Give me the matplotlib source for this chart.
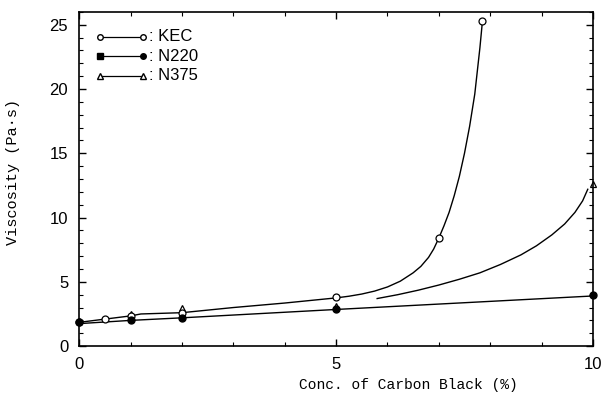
import matplotlib.pyplot as plt
from matplotlib.ticker import MultipleLocator

# measured points
conc_kec = [0, 0.5, 1, 2, 5, 7, 7.85]
visc_kec = [1.9, 2.1, 2.35, 2.6, 3.8, 8.4, 25.3]
conc_n220 = [0, 1, 2, 5, 10]
visc_n220 = [1.9, 2.0, 2.2, 2.85, 4.0]
conc_n375 = [0, 1, 2, 5, 10]
visc_n375 = [1.95, 2.5, 3.0, 3.1, 12.6]

# drawn guide lines
line_upper_x = [0, 1, 1.2, 2, 3, 4, 5, 5.25, 5.5, 5.75, 6, 6.25, 6.5, 6.65, 6.8, 6.9, 7,
                7.1, 7.2, 7.3, 7.4, 7.5, 7.6, 7.7, 7.8, 7.85]
line_upper_y = [1.85, 2.35, 2.5, 2.6, 3.0, 3.35, 3.75, 3.88, 4.05, 4.28, 4.6, 5.05, 5.7, 6.2,
                6.9, 7.55, 8.4, 9.35, 10.4, 11.7, 13.2, 15.0, 17.1, 19.6, 23.2, 25.3]
line_lower_x = [0, 1, 2, 5, 10]
line_lower_y = [1.75, 2.0, 2.2, 2.85, 3.9]
line_n375_x = [5.8, 6.2, 6.6, 7.0, 7.4, 7.8, 8.2, 8.6, 8.9, 9.2, 9.45, 9.65, 9.8, 9.9]
line_n375_y = [3.7, 4.0, 4.35, 4.75, 5.2, 5.7, 6.35, 7.1, 7.8, 8.65, 9.5, 10.4, 11.3, 12.2]

fig = plt.figure(figsize=(6.05, 3.96), dpi=100)
ax = fig.add_axes([0.131, 0.126, 0.849, 0.844])

ax.plot(line_upper_x, line_upper_y, color="black", lw=1)
ax.plot(line_lower_x, line_lower_y, color="black", lw=1)
ax.plot(line_n375_x, line_n375_y, color="black", lw=1)

ax.plot(conc_n375, visc_n375, ls="none", marker="^", ms=5, mfc="white", mec="black", mew=0.9, clip_on=False)
ax.plot(conc_kec, visc_kec, ls="none", marker="o", ms=5, mfc="white", mec="black", mew=0.9, clip_on=False)
ax.plot(conc_n220, visc_n220, ls="none", marker="o", ms=5, mfc="black", mec="black", clip_on=False)

# legend, drawn by hand like the original
legend_rows = [("o", "white", "o", "white", ": KEC"),
               ("s", "black", "o", "black", ": N220"),
               ("^", "white", "^", "white", ": N375")]
for i, (m1, f1, m2, f2, lab) in enumerate(legend_rows):
    yy = 0.925 - i * 0.058
    ax.plot([0.04, 0.125], [yy, yy], color="black", lw=0.9, transform=ax.transAxes)
    ax.plot([0.04], [yy], marker=m1, ms=4, mfc=f1, mec="black", transform=ax.transAxes)
    ax.plot([0.125], [yy], marker=m2, ms=4, mfc=f2, mec="black", transform=ax.transAxes)
    ax.text(0.135, yy, lab, transform=ax.transAxes, va="center", ha="left",
            fontsize=12, family="Liberation Sans")

ax.set_xlim(0, 10)
ax.set_ylim(0, 26)
ax.xaxis.set_major_locator(MultipleLocator(5))
ax.xaxis.set_minor_locator(MultipleLocator(1))
ax.yaxis.set_major_locator(MultipleLocator(5))
ax.yaxis.set_minor_locator(MultipleLocator(1))
ax.tick_params(which="both", direction="in", top=True, right=True)
ax.tick_params(which="major", length=5, width=1, labelsize=12, pad=8)
ax.tick_params(which="minor", length=3, width=0.8)
for lbl in ax.get_xticklabels() + ax.get_yticklabels():
    lbl.set_family("Liberation Sans")
for sp in ax.spines.values():
    sp.set_linewidth(1.2)

ax.set_xlabel("Conc. of Carbon Black (%)", family="Liberation Mono", fontsize=10.5)
ax.xaxis.set_label_coords(0.64, -0.095)
ax.set_ylabel("Viscosity (Pa\u00b7s)", family="Liberation Mono", fontsize=11)
ax.yaxis.set_label_coords(-0.115, 0.52)

plt.savefig("out.png", dpi=100)
